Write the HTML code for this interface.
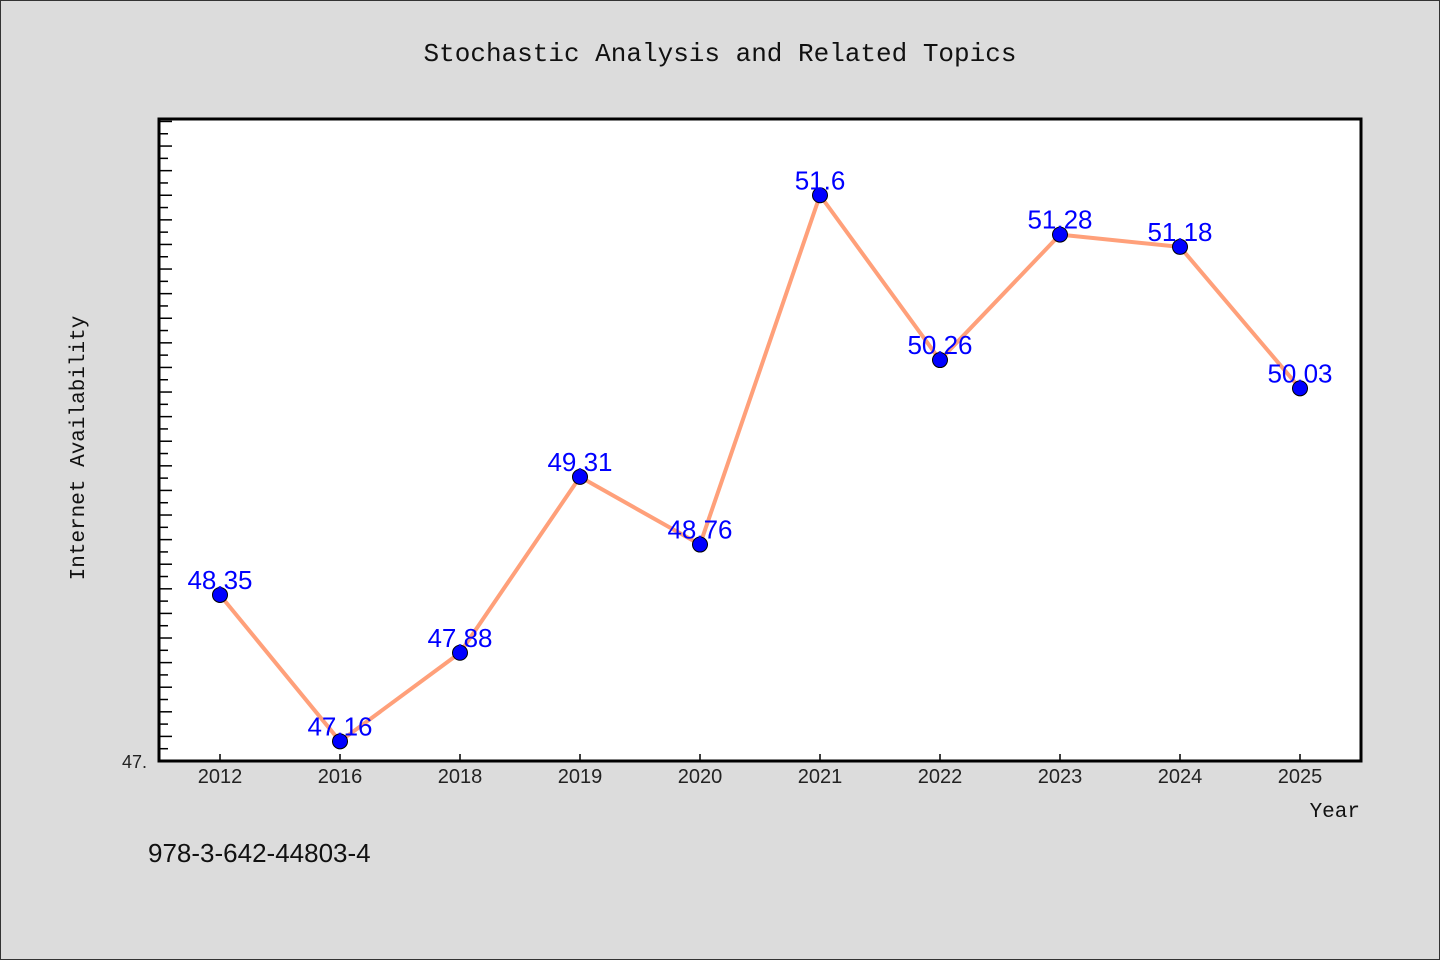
<!DOCTYPE html>
<html><head><meta charset="utf-8"><style>
body{margin:0;background:#dcdcdc}
svg{display:block}
</style></head><body>
<svg width="1440" height="960">
<rect x="0.5" y="0.5" width="1439" height="959" fill="#dcdcdc" stroke="#333"/>
<text x="720" y="61" text-anchor="middle" font-family="Liberation Mono, monospace" font-size="26" fill="#111">Stochastic Analysis and Related Topics</text>
<rect x="159" y="119" width="1202" height="642" fill="#fff"/>
<g id="ticks"></g>
<g id="series"></g>
<rect x="159" y="119" width="1202" height="642" fill="none" stroke="#000" stroke-width="3"/>
<text x="147" y="768" text-anchor="end" font-family="Liberation Sans, sans-serif" font-size="18" fill="#222">47.</text>
<text transform="translate(84,448) rotate(-90)" text-anchor="middle" font-family="Liberation Mono, monospace" font-size="21" fill="#111">Internet Availability</text>
<text x="1360" y="817" text-anchor="end" font-family="Liberation Mono, monospace" font-size="21" fill="#111">Year</text>
<text x="148" y="862" font-family="Liberation Sans, sans-serif" font-size="26" fill="#111">978-3-642-44803-4</text>
</svg>
<script>
const categories=["2012","2016","2018","2019","2020","2021","2022","2023","2024","2025"];
const values=[48.35,47.16,47.88,49.31,48.76,51.6,50.26,51.28,51.18,50.03];
const yMin=47, yMax=52.22;
const NS="http://www.w3.org/2000/svg";
function xs(i){return 220+120*i;}
function ys(v){return 761-(v-yMin)/(yMax-yMin)*642;}
function mk(t,a,p){const e=document.createElementNS(NS,t);for(const k in a)e.setAttribute(k,a[k]);p.appendChild(e);return e;}
const tg=document.getElementById('ticks'), sg=document.getElementById('series');
for(let k=1;k<=52;k++){const y=ys(yMin+k*0.1);if(y<121)break;
 const t=mk('line',{x1:160,x2:160+(k%2?8:12),y1:y,y2:y,stroke:'#000','stroke-width':1.5},tg);
 
 }
categories.forEach((c,i)=>{
 const t=mk('line',{x1:xs(i),x2:xs(i),y1:761,y2:754,stroke:'#000','stroke-width':1.5},tg);
 
 
 const l=mk('text',{x:xs(i),y:783,'text-anchor':'middle','font-family':'Liberation Sans, sans-serif','font-size':20,fill:'#222'},tg);
 l.textContent=c;
 
 
});
const pl=mk('polyline',{points:values.map((v,i)=>xs(i)+','+ys(v)).join(' '),fill:'none',stroke:'#ffa07a','stroke-width':4,'stroke-linejoin':'round'},sg);


values.forEach((v,i)=>{
 const c=mk('circle',{cx:xs(i),cy:ys(v),r:7.5,fill:'#0000ff',stroke:'#000','stroke-width':1},sg);
 
 
 const t=mk('text',{x:xs(i),y:ys(v)-6,'text-anchor':'middle','font-family':'Liberation Sans, sans-serif','font-size':26,fill:'#0000ff'},sg);
 t.textContent=String(v);
 
 
});
</script>
</body></html>
